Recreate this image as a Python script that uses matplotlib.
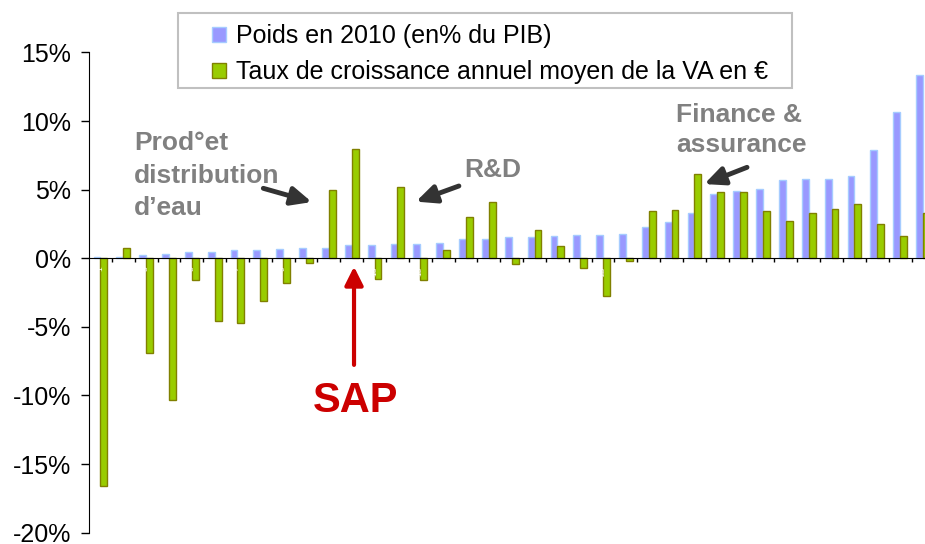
import numpy as np
import matplotlib
matplotlib.use('Agg')
from matplotlib import pyplot as plt
from matplotlib.patches import Rectangle
from matplotlib.ticker import FuncFormatter

plt.rcParams['font.family'] = ['Liberation Sans', 'DejaVu Sans']

# --- data (in %) ---
codes = [str(i) for i in range(1, 38)]
poids = [0.1, 0.1, 0.25, 0.33, 0.44, 0.44, 0.6, 0.6, 0.68, 0.75,
         0.75, 0.97, 0.97, 1.02, 1.02, 1.14, 1.43, 1.43, 1.53, 1.53,
         1.6, 1.68, 1.68, 1.75, 2.26, 2.63, 3.28, 4.71, 4.88, 5.05,
         5.69, 5.78, 5.78, 6.0, 7.87, 10.64, 13.36]
croissance = [-16.6, 0.75, -6.9, -10.3, -1.6, -4.6, -4.7, -3.1, -1.8, -0.36,
              5.0, 8.0, -1.53, 5.17, -1.6, 0.6, 3.0, 4.08, -0.42, 2.06,
              0.9, -0.73, -2.75, -0.2, 3.43, 3.53, 6.17, 4.81, 4.81, 3.45,
              2.72, 3.28, 3.59, 3.94, 2.48, 1.6, 3.28]
label_poids = 'Poids en 2010 (en% du PIB)'
label_croiss = 'Taux de croissance annuel moyen de la VA en €'

fig = plt.figure(figsize=(9.25, 5.44), dpi=100)
ax = fig.add_axes([0.0962, 0.0208, 0.9038, 0.8827])

x = np.arange(len(poids))
ax.bar(x - 0.15, poids, 0.3, color='#9999ff', edgecolor='#a6ccff', linewidth=1, label=label_poids)
ax.bar(x + 0.15, croissance, 0.3, color='#99cc00', edgecolor='#808000', linewidth=1, label=label_croiss)

ax.set_xlim(-0.5, 36.09)
ax.set_ylim(-20, 15)

# axes look
ax.spines['top'].set_visible(False)
ax.spines['right'].set_visible(False)
ax.spines['bottom'].set_position(('data', 0))
ax.spines['bottom'].set_zorder(3)

ax.set_xticks(x[:-1] + 0.5)
ax.set_xticklabels([])
ax.tick_params(axis='x', which='major', length=3, width=1, direction='out')
ax.set_xticks(x[::2], minor=True)
ax.set_xticklabels(codes[::2], minor=True, color='white', fontsize=6, rotation=90)
ax.tick_params(axis='x', which='minor', length=0, pad=6)

ax.set_yticks(range(-20, 16, 5))
ax.yaxis.set_major_formatter(FuncFormatter(lambda v, p: '%d%%' % v))
ax.tick_params(axis='y', labelsize=18, length=6, width=1, pad=7)

# --- annotations ---
gray = '#808080'
ax.text(1.48, 6.03, 'Prod°et\ndistribution\nd’eau', color=gray, fontsize=19,
        fontweight='bold', ha='left', va='center', linespacing=1.45)
ax.text(17.19, 6.44, 'R&D', color=gray, fontsize=19, fontweight='bold', ha='center', va='center')
ax.text(25.19, 9.35, 'Finance &\nassurance', color=gray, fontsize=19,
        fontweight='bold', ha='left', va='center', linespacing=1.36)

black_arrow = dict(arrowstyle='-|>,head_length=1.2,head_width=0.55', color='#333333',
                   lw=3.5, mutation_scale=10, shrinkA=0, shrinkB=0)
ax.annotate('', xy=(9.25, 4.10), xytext=(7.13, 5.10), arrowprops=black_arrow)
ax.annotate('', xy=(13.81, 4.13), xytext=(15.69, 5.27), arrowprops=black_arrow)
ax.annotate('', xy=(26.43, 5.41), xytext=(28.3, 6.63), arrowprops=black_arrow)

ax.annotate('', xy=(11.10, -0.61), xytext=(11.10, -7.77),
            arrowprops=dict(arrowstyle='-|>,head_length=1.0,head_width=0.5', color='#cc0000',
                            lw=3, mutation_scale=11, shrinkA=0, shrinkB=0))
ax.text(11.18, -10.4, 'SAP', color='#cc0000', fontsize=30, fontweight='bold', ha='center', va='center')

# legend: box drawn separately so the inner padding can match
fig.patches.append(Rectangle((178 / 925, 1 - 88 / 544), 614 / 925, 75 / 544,
                             transform=fig.transFigure, facecolor='white',
                             edgecolor='#c0c0c0', linewidth=1.5, zorder=4))
leg = fig.legend(loc='upper left', bbox_to_anchor=(212 / 925, 1 - 24 / 544), borderaxespad=0,
                 fontsize=18, frameon=False, handlelength=0.55, handleheight=0.55,
                 handletextpad=0.4, labelspacing=0.48, borderpad=0)
leg.set_zorder(5)

fig.savefig('out.png', dpi=100)
